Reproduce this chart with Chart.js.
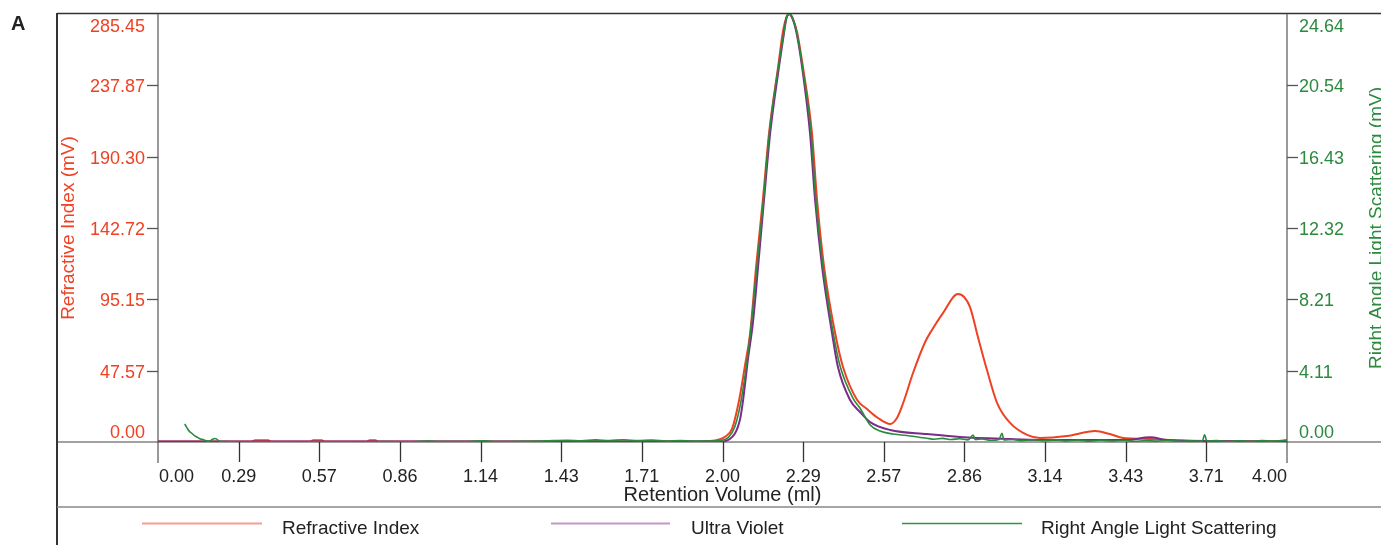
<!DOCTYPE html>
<html>
<head>
<meta charset="utf-8">
<script src="https://cdn.jsdelivr.net/npm/chart.js@4"></script>
<style>
  body { margin: 0; background: #fff; }
  #wrap { width: 1381px; height: 545px; position: relative; }
</style>
</head>
<body>
<div id="wrap"><canvas id="secChart"></canvas></div>
<script>
// tick labels
const xTickLabels = ['0.00', '0.29', '0.57', '0.86', '1.14', '1.43', '1.71', '2.00', '2.29', '2.57', '2.86', '3.14', '3.43', '3.71', '4.00'];
const riTickLabels = ['0.00', '47.57', '95.15', '142.72', '190.30', '237.87', '285.45'];
const lsTickLabels = ['0.00', '4.11', '8.21', '12.32', '16.43', '20.54', '24.64'];
const seriesNames = ['Refractive Index', 'Ultra Violet', 'Right Angle Light Scattering'];

// Refractive Index (mV), left axis
const riVolume = [0.00, 0.33, 0.345, 0.39, 0.40, 0.54, 0.55, 0.58, 0.59, 0.74, 0.75, 0.77, 0.78, 1.90,
  1.920, 1.973, 2.009, 2.034, 2.059, 2.080, 2.098, 2.119, 2.143, 2.165, 2.197, 2.214, 2.226, 2.236, 2.247, 2.264,
  2.285, 2.317, 2.335, 2.360, 2.399, 2.427, 2.477, 2.512, 2.551, 2.594, 2.618, 2.640, 2.675, 2.718,
  2.742, 2.781, 2.834, 2.856, 2.877, 2.905, 2.937, 2.973, 3.019, 3.079, 3.125, 3.221, 3.320, 3.373,
  3.419, 3.515, 3.621, 4.00];
const riSignal = [0.3, 0.3, 1.2, 1.2, 0.3, 0.3, 1.2, 1.2, 0.3, 0.3, 1.1, 1.1, 0.3, 0.3,
  0.4, 1.0, 3.5, 9.0, 28.0, 51.4, 72.7, 116.7, 161.4, 206.1, 250.1, 273.5, 283.0, 285.45, 283.0, 273.5,
  250.1, 206.1, 161.4, 116.7, 72.7, 50.0, 28.0, 22.0, 16.0, 12.0, 16.0, 26.0, 46.0, 66.7,
  74.7, 86.0, 98.7, 96.7, 90.0, 70.0, 48.0, 26.0, 12.7, 4.7, 2.7, 4.0, 7.3, 5.3,
  2.7, 2.0, 1.0, 0.5];

// Ultra Violet, plotted against the left axis
const uvVolume = [0.00, 1.991, 2.026, 2.062, 2.073, 2.090, 2.108, 2.126, 2.147, 2.169, 2.200, 2.218, 2.227,
  2.236, 2.247, 2.262, 2.282, 2.310, 2.328, 2.353, 2.388, 2.409, 2.452, 2.487, 2.523, 2.594, 2.725,
  2.841, 3.019, 3.196, 3.430, 3.515, 3.575, 3.700, 4.00];
const uvSignal = [0.3, 0.3, 2.0, 15.0, 28.0, 55.0, 80.0, 116.7, 161.4, 206.1, 250.1, 273.0, 283.0,
  285.45, 283.0, 273.0, 250.1, 206.1, 161.4, 116.7, 72.7, 50.0, 28.0, 20.0, 13.3, 8.0, 5.3,
  3.3, 2.0, 1.3, 1.3, 3.1, 1.3, 0.7, 0.3];

// Right Angle Light Scattering (mV), right axis
const lsVolume = [0.095, 0.100, 0.106, 0.112, 0.120, 0.128, 0.136, 0.145, 0.152, 0.160, 0.168, 0.176,
  0.184, 0.192, 0.200, 0.207, 0.214, 0.222, 0.24, 0.30, 0.40, 0.50, 0.60, 0.70, 0.80, 0.90, 0.96,
  1.00, 1.10, 1.16, 1.20, 1.30, 1.36, 1.40, 1.45, 1.50, 1.55, 1.60, 1.65, 1.70, 1.75, 1.80, 1.85,
  1.90, 1.95, 1.991, 2.020, 2.044, 2.066, 2.094, 2.122, 2.145, 2.166, 2.198, 2.218, 2.227, 2.236, 2.247,
  2.263, 2.283, 2.314, 2.331, 2.356, 2.392, 2.416, 2.463, 2.487, 2.523, 2.558, 2.604, 2.664, 2.724,
  2.75, 2.78, 2.81, 2.84, 2.87, 2.888, 2.895, 2.92, 2.95, 2.98, 2.990, 2.997, 3.03, 3.06, 3.10,
  3.14, 3.18, 3.22, 3.26, 3.30, 3.34, 3.38, 3.42, 3.46, 3.50, 3.54, 3.58, 3.62, 3.66, 3.70,
  3.708, 3.716, 3.75, 3.79, 3.83, 3.87, 3.91, 3.95, 3.98, 4.00];
const lsSignal = [1.04, 0.88, 0.72, 0.60, 0.50, 0.38, 0.30, 0.22, 0.16, 0.14, 0.08, 0.05,
  0.06, 0.14, 0.20, 0.18, 0.08, 0.03, 0.02, 0.00, 0.01, 0.00, 0.01, 0.00, 0.02, 0.01, 0.06,
  0.02, 0.03, 0.07, 0.02, 0.04, 0.06, 0.08, 0.10, 0.07, 0.12, 0.09, 0.13, 0.08, 0.11, 0.06, 0.09,
  0.05, 0.06, 0.08, 0.25, 0.9, 2.4, 5.6, 10.1, 13.9, 17.8, 21.6, 23.6, 24.45, 24.64, 24.45,
  23.6, 21.6, 17.8, 13.9, 10.1, 6.3, 4.4, 2.5, 1.96, 0.98, 0.63, 0.46, 0.35, 0.22,
  0.16, 0.21, 0.14, 0.19, 0.12, 0.40, 0.14, 0.17, 0.10, 0.15, 0.50, 0.12, 0.14, 0.08, 0.13,
  0.07, 0.12, 0.06, 0.11, 0.05, 0.10, 0.06, 0.09, 0.04, 0.08, 0.05, 0.09, 0.04, 0.07, 0.05,
  0.42, 0.06, 0.08, 0.03, 0.07, 0.04, 0.08, 0.05, 0.09, 0.12];

const RED = '#ef4123';
const PURPLE = '#7d2b8b';
const GREEN = '#2b8a3e';
const FONT = '"Liberation Sans", Arial, sans-serif';

function pairs(xs, ys) {
  return xs.map(function (x, i) { return { x: x, y: ys[i] }; });
}

function line(ctx, x1, y1, x2, y2, color, width) {
  ctx.beginPath();
  ctx.strokeStyle = color;
  ctx.lineWidth = width;
  ctx.moveTo(x1, y1);
  ctx.lineTo(x2, y2);
  ctx.stroke();
}

// axes, frame, labels and legend drawn by hand around the chart area
const framePlugin = {
  id: 'framePlugin',
  beforeDatasetsDraw(chart) {
    const ctx = chart.ctx;
    const a = chart.chartArea;
    const W = chart.width;
    const xs = chart.scales.x;
    const yl = chart.scales.yRI;
    ctx.save();
    line(ctx, 57, 13, 57, 545, '#333', 2);
    line(ctx, 57, 13.5, W, 13.5, '#333', 1.5);
    line(ctx, 57, 507, W, 507, '#888', 1.5);
    line(ctx, a.left, a.top, a.left, 463, '#777', 1.5);
    line(ctx, a.right, a.top, a.right, 463, '#777', 1.5);
    line(ctx, 57, a.bottom, W, a.bottom, '#444', 1.2);
    // x tick marks
    xTickLabels.forEach(function (lab, i) {
      if (i === 0 || i === xTickLabels.length - 1) return;
      const px = Math.round(xs.getPixelForValue(i * 4 / (xTickLabels.length - 1))) + 0.5;
      line(ctx, px, a.bottom, px, 462, '#333', 1.3);
    });
    // y tick marks
    riTickLabels.forEach(function (lab, i) {
      if (i === 0 || i === riTickLabels.length - 1) return;
      const py = Math.round(yl.getPixelForValue(i * 285.45 / (riTickLabels.length - 1))) + 0.5;
      line(ctx, 147, py, a.left, py, '#555', 1.3);
      line(ctx, a.right, py, a.right + 11, py, '#555', 1.3);
    });
    ctx.restore();
  },
  afterDraw(chart) {
    const ctx = chart.ctx;
    const a = chart.chartArea;
    const xs = chart.scales.x;
    const yl = chart.scales.yRI;
    const yr = chart.scales.yLS;
    ctx.save();
    ctx.font = '18px ' + FONT;
    ctx.textBaseline = 'alphabetic';

    // x tick labels
    ctx.fillStyle = '#222';
    xTickLabels.forEach(function (lab, i) {
      const px = xs.getPixelForValue(i * 4 / (xTickLabels.length - 1));
      ctx.textAlign = i === 0 ? 'left' : (i === xTickLabels.length - 1 ? 'right' : 'center');
      ctx.fillText(lab, i === 0 ? px + 1 : px, 482);
    });

    // left axis labels
    ctx.fillStyle = RED;
    ctx.textAlign = 'right';
    riTickLabels.forEach(function (lab, i) {
      let py = yl.getPixelForValue(i * 285.45 / (riTickLabels.length - 1)) + 7;
      if (i === 0) py = a.bottom - 4;
      if (i === riTickLabels.length - 1) py = a.top + 18;
      ctx.fillText(lab, 145, py);
    });
    // right axis labels
    ctx.fillStyle = GREEN;
    ctx.textAlign = 'left';
    lsTickLabels.forEach(function (lab, i) {
      let py = yr.getPixelForValue(i * 24.64 / (lsTickLabels.length - 1)) + 7;
      if (i === 0) py = a.bottom - 4;
      if (i === lsTickLabels.length - 1) py = a.top + 18;
      ctx.fillText(lab, a.right + 12, py);
    });

    // axis titles
    ctx.fillStyle = '#222';
    ctx.textAlign = 'center';
    ctx.font = '20px ' + FONT;
    ctx.fillText('Retention Volume (ml)', (a.left + a.right) / 2, 501);

    ctx.font = '19px ' + FONT;
    const midY = (a.top + a.bottom) / 2;
    ctx.textBaseline = 'middle';
    ctx.save();
    ctx.translate(69, midY);
    ctx.rotate(-Math.PI / 2);
    ctx.fillStyle = RED;
    ctx.fillText('Refractive Index (mV)', 0, 0);
    ctx.restore();
    ctx.save();
    ctx.translate(1377, midY);
    ctx.rotate(-Math.PI / 2);
    ctx.fillStyle = GREEN;
    ctx.fillText('Right Angle Light Scattering (mV)', 0, 0);
    ctx.restore();

    // panel letter
    ctx.textAlign = 'left';
    ctx.textBaseline = 'alphabetic';
    ctx.fillStyle = '#222';
    ctx.font = 'bold 20px ' + FONT;
    ctx.fillText('A', 11, 30);

    // legend
    const legendLines = [[142, 262, '#f4a090', 2], [551, 670, '#c595cc', 2], [902, 1022, '#2a9a3a', 1.4]];
    const legendText = [282, 691, 1041];
    ctx.font = '19px ' + FONT;
    seriesNames.forEach(function (name, i) {
      const l = legendLines[i];
      line(ctx, l[0], 523.5, l[1], 523.5, l[2], l[3]);
      ctx.fillStyle = '#222';
      ctx.fillText(name, legendText[i], 534);
    });
    ctx.restore();
  }
};

const ctx = document.getElementById('secChart').getContext('2d');
const secChart = new Chart(ctx, {
  type: 'line',
  data: {
    datasets: [{
      label: seriesNames[2],
      data: pairs(lsVolume, lsSignal),
      yAxisID: 'yLS',
      borderColor: GREEN,
      borderWidth: 1.6,
      order: 0
    }, {
      label: seriesNames[1],
      data: pairs(uvVolume, uvSignal),
      yAxisID: 'yRI',
      borderColor: PURPLE,
      borderWidth: 2,
      order: 1
    }, {
      label: seriesNames[0],
      data: pairs(riVolume, riSignal),
      yAxisID: 'yRI',
      borderColor: RED,
      borderWidth: 2,
      order: 2
    }]
  },
  options: {
    responsive: true,
    maintainAspectRatio: false,
    animation: false,
    parsing: false,
    layout: { padding: { left: 158, top: 14, right: 94, bottom: 103 } },
    elements: {
      point: { radius: 0 },
      line: { cubicInterpolationMode: 'monotone', fill: false }
    },
    plugins: { legend: { display: false }, tooltip: { enabled: false } },
    scales: {
      x: { type: 'linear', min: 0, max: 4, display: false },
      yRI: { type: 'linear', position: 'left', min: 0, max: 285.45, display: false },
      yLS: { type: 'linear', position: 'right', min: 0, max: 24.64, display: false }
    }
  },
  plugins: [framePlugin]
});
</script>
</body>
</html>
